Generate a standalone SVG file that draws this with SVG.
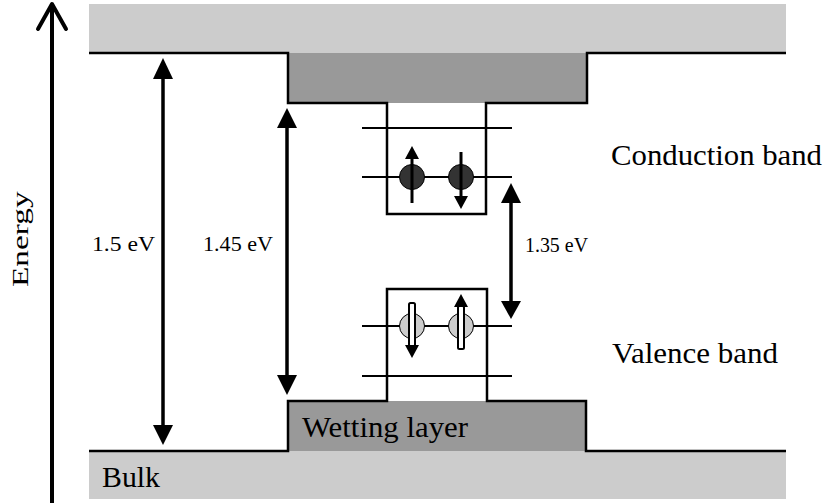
<svg xmlns="http://www.w3.org/2000/svg" width="826" height="503" viewBox="0 0 826 503">
<style>
.t{font-family:"Liberation Serif","Times New Roman",serif;fill:#000}
.ol{fill:none;stroke:#000;stroke-width:2.5}
.lv{stroke:#000;stroke-width:2}
.sh{stroke:#000;stroke-width:3.5}
.hd{fill:#000}
</style>
<rect width="826" height="503" fill="#fff"/>
<g id="bands">
<rect x="89" y="4" width="697" height="49" fill="#cccccc"/>
<rect x="288" y="53" width="299" height="50" fill="#999999"/>
<rect x="288" y="401" width="298" height="50" fill="#999999"/>
<rect x="89" y="451" width="697" height="48" fill="#cccccc"/>
<path class="ol" d="M89,53 H288 V103 H387 V214 H486 V103 H587 V53 H786"/>
<path class="ol" d="M89,451 H288 V401 H387 V289 H487 V401 H586 V451 H786"/>
</g>
<g id="levels">
<line class="lv" x1="362" y1="128" x2="512" y2="128"/>
<line class="lv" x1="362" y1="177" x2="512" y2="177"/>
<line class="lv" x1="362" y1="326" x2="512" y2="326"/>
<line class="lv" x1="362" y1="376" x2="512" y2="376"/>
</g>
<g id="electrons">
<circle cx="412" cy="177" r="12.5" fill="#333" stroke="#000" stroke-width="1"/>
<circle cx="461" cy="177" r="12.5" fill="#333" stroke="#000" stroke-width="1"/>
<line x1="412" y1="203" x2="412" y2="158" stroke="#000" stroke-width="3"/>
<polygon class="hd" points="405,159 419,159 412,146"/>
<line x1="461" y1="152" x2="461" y2="197" stroke="#000" stroke-width="3"/>
<polygon class="hd" points="454,196 468,196 461,209"/>
</g>
<g id="holes">
<circle cx="412" cy="326" r="12.5" fill="#ccc" stroke="#000" stroke-width="1"/>
<circle cx="461" cy="326" r="12.5" fill="#ccc" stroke="#000" stroke-width="1"/>
<rect x="409" y="303" width="6" height="43" rx="1.5" fill="#fff" stroke="#000" stroke-width="2"/>
<polygon class="hd" points="405,345 419,345 412,358"/>
<rect x="458" y="306" width="6" height="43" rx="1.5" fill="#fff" stroke="#000" stroke-width="2"/>
<polygon class="hd" points="454,307 468,307 461,294"/>
</g>
<g id="connectors">
<line x1="52" y1="4" x2="52" y2="503" stroke="#000" stroke-width="4"/>
<polyline points="38,29 52,4 66,29" fill="none" stroke="#000" stroke-width="4" stroke-linecap="round" stroke-linejoin="round"/>
<line class="sh" x1="163" y1="76" x2="163" y2="428"/>
<polygon class="hd" points="153,79 173,79 163,58"/>
<polygon class="hd" points="153,425 173,425 163,445"/>
<line class="sh" x1="287" y1="125" x2="287" y2="378"/>
<polygon class="hd" points="277,128 297,128 287,108"/>
<polygon class="hd" points="277,375 297,375 287,395"/>
<line class="sh" x1="511" y1="200" x2="511" y2="304"/>
<polygon class="hd" points="501,203 521,203 511,183"/>
<polygon class="hd" points="501,301 521,301 511,319"/>
</g>
<g id="labels">
<text class="t" font-size="23" transform="translate(28,287) rotate(-90) scale(1.45,1)">Energy</text>
<text class="t" x="92" y="251" font-size="22" textLength="63" lengthAdjust="spacingAndGlyphs">1.5 eV</text>
<text class="t" x="203" y="251" font-size="22" textLength="70" lengthAdjust="spacingAndGlyphs">1.45 eV</text>
<text class="t" x="525" y="252" font-size="22" textLength="63" lengthAdjust="spacingAndGlyphs">1.35 eV</text>
<text class="t" x="611" y="165" font-size="30" textLength="211" lengthAdjust="spacingAndGlyphs">Conduction band</text>
<text class="t" x="612" y="363" font-size="30" textLength="166" lengthAdjust="spacingAndGlyphs">Valence band</text>
<text class="t" x="302" y="437" font-size="30" textLength="166" lengthAdjust="spacingAndGlyphs">Wetting layer</text>
<text class="t" x="102" y="487" font-size="30" textLength="58" lengthAdjust="spacingAndGlyphs">Bulk</text>
</g>
</svg>
